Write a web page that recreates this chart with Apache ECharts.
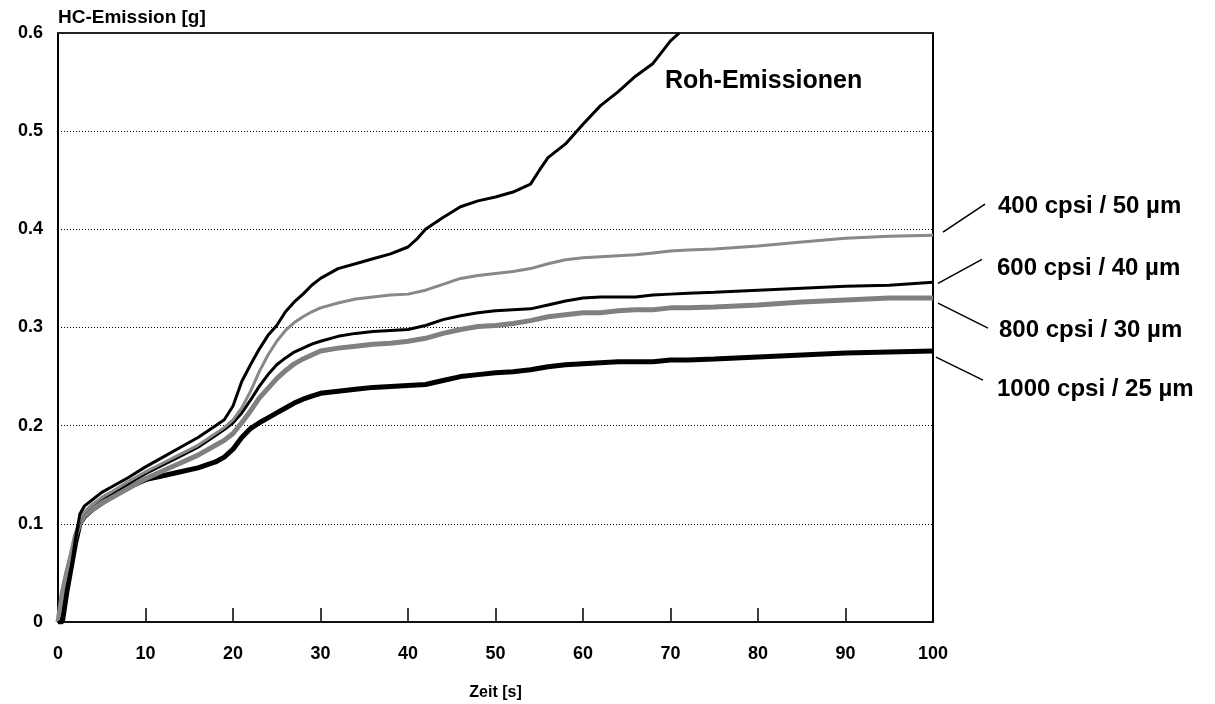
<!DOCTYPE html>
<html>
<head>
<meta charset="utf-8">
<script src="https://cdn.jsdelivr.net/npm/echarts@6/dist/echarts.min.js"></script>
<style>
  html, body { margin: 0; padding: 0; background: #fff; }
  #chart { width: 1215px; height: 704px; }
</style>
</head>
<body>
<div id="chart"></div>
<script>
// Zeitachse der Katalysator-Kurven [s]
var zeit = [0, 0.5, 1, 1.5, 2, 2.5, 3, 4, 5, 6, 8, 10, 12, 14, 16, 18, 19, 20, 21, 22, 23, 24, 25, 26, 27, 28, 29, 30,
  32, 34, 36, 38, 40, 42, 44, 46, 48, 50, 52, 54, 56, 58, 60, 62, 64, 66, 68, 70, 72, 75, 80, 85, 90, 95, 100];
// Zeitachse Roh-Emissionen (endet am oberen Rand)
var zeitRoh = [0, 0.5, 1, 1.5, 2, 2.5, 3, 4, 5, 6, 8, 10, 12, 14, 16, 18, 19, 20, 21, 22, 23, 24, 25, 26, 27, 28, 29, 30,
  32, 34, 36, 38, 40, 41, 42, 44, 46, 48, 50, 52, 54, 55, 56, 58, 60, 62, 64, 66, 68, 70, 71];

var roh = [0, 0, 0.03, 0.055, 0.085, 0.11, 0.118, 0.125, 0.132, 0.137, 0.147, 0.158, 0.168, 0.178, 0.188, 0.2, 0.206, 0.22,
  0.245, 0.262, 0.278, 0.292, 0.302, 0.316, 0.326, 0.334, 0.343, 0.35, 0.36, 0.365, 0.37, 0.375, 0.382, 0.39, 0.4, 0.412,
  0.423, 0.429, 0.433, 0.438, 0.446, 0.46, 0.473, 0.487, 0.507, 0.526, 0.54, 0.556, 0.569, 0.592, 0.6];

var cpsi400 = [0, 0.03, 0.05, 0.07, 0.09, 0.105, 0.112, 0.12, 0.127, 0.132, 0.143, 0.153, 0.162, 0.171, 0.18, 0.192, 0.198,
  0.206, 0.218, 0.235, 0.255, 0.272, 0.286, 0.297, 0.305, 0.311, 0.316, 0.32, 0.325, 0.329, 0.331, 0.333, 0.334, 0.338,
  0.344, 0.35, 0.353, 0.355, 0.357, 0.36, 0.365, 0.369, 0.371, 0.372, 0.373, 0.374, 0.376, 0.378, 0.379, 0.38, 0.383,
  0.387, 0.391, 0.393, 0.394];

var cpsi600 = [0, 0.005, 0.035, 0.06, 0.085, 0.105, 0.112, 0.12, 0.126, 0.131, 0.141, 0.151, 0.16, 0.169, 0.178, 0.19,
  0.196, 0.203, 0.213, 0.226, 0.24, 0.252, 0.262, 0.269, 0.275, 0.279, 0.283, 0.286, 0.291, 0.294, 0.296, 0.297, 0.298,
  0.302, 0.308, 0.312, 0.315, 0.317, 0.318, 0.319, 0.323, 0.327, 0.33, 0.331, 0.331, 0.331, 0.333, 0.334, 0.335, 0.336,
  0.338, 0.34, 0.342, 0.343, 0.346];

var cpsi800 = [0, 0.03, 0.05, 0.068, 0.088, 0.1, 0.108, 0.115, 0.121, 0.126, 0.136, 0.146, 0.154, 0.162, 0.17, 0.18,
  0.185, 0.192, 0.203, 0.215, 0.228, 0.238, 0.248, 0.256, 0.263, 0.268, 0.272, 0.276, 0.279, 0.281, 0.283, 0.284, 0.286,
  0.289, 0.294, 0.298, 0.301, 0.302, 0.304, 0.307, 0.311, 0.313, 0.315, 0.315, 0.317, 0.318, 0.318, 0.32, 0.32, 0.321,
  0.323, 0.326, 0.328, 0.33, 0.33];

var cpsi1000 = [0, 0, 0.03, 0.055, 0.08, 0.1, 0.107, 0.115, 0.121, 0.127, 0.137, 0.145, 0.149, 0.153, 0.157, 0.163,
  0.168, 0.176, 0.188, 0.197, 0.203, 0.208, 0.213, 0.218, 0.223, 0.227, 0.23, 0.233, 0.235, 0.237, 0.239, 0.24, 0.241,
  0.242, 0.246, 0.25, 0.252, 0.254, 0.255, 0.257, 0.26, 0.262, 0.263, 0.264, 0.265, 0.265, 0.265, 0.267, 0.267, 0.268,
  0.27, 0.272, 0.274, 0.275, 0.276];

var xTicks = [0, 10, 20, 30, 40, 50, 60, 70, 80, 90, 100];
var yTicks = [0, 0.1, 0.2, 0.3, 0.4, 0.5, 0.6];

function pairs(t, v) {
  return t.map(function (x, i) { return [x, v[i]]; });
}

var fontFam = '"Liberation Sans", Arial, sans-serif';
var myChart = echarts.init(document.getElementById('chart'));

var option = {
  animation: false,
  backgroundColor: '#fff',
  textStyle: { fontFamily: fontFam },
  grid: { left: 58, right: 282, top: 33, bottom: 82, containLabel: false, outerBoundsMode: 'none' },
  xAxis: [{
    type: 'value',
    min: 0, max: 100, interval: 10,
    name: 'Zeit [s]',
    nameLocation: 'middle',
    nameGap: 63,
    nameTextStyle: { color: '#000', fontWeight: 'bold', fontSize: 16, fontFamily: fontFam },
    axisLine: { show: true, onZero: false, lineStyle: { color: '#111', width: 2 } },
    axisTick: { show: true, inside: true, length: 14, lineStyle: { color: '#000', width: 1.5 } },
    axisLabel: {
      color: '#000', fontWeight: 'bold', fontSize: 18, margin: 23, fontFamily: fontFam,
      formatter: function (v) { return xTicks.indexOf(v) >= 0 ? String(v) : ''; }
    },
    splitLine: { show: false }
  }, {
    // oberer Rahmen
    type: 'value', position: 'top', min: 0, max: 100,
    axisLine: { show: true, onZero: false, lineStyle: { color: '#222', width: 2 } },
    axisTick: { show: false }, axisLabel: { show: false }, splitLine: { show: false }
  }],
  yAxis: [{
    type: 'value',
    min: 0, max: 0.6, interval: 0.1,
    name: 'HC-Emission [g]',
    nameLocation: 'end',
    nameGap: 6,
    nameTextStyle: { color: '#000', fontWeight: 'bold', fontSize: 19, align: 'left', fontFamily: fontFam },
    axisLine: { show: true, onZero: false, lineStyle: { color: '#000', width: 2 } },
    axisTick: { show: false },
    axisLabel: {
      color: '#000', fontWeight: 'bold', fontSize: 18, margin: 15, fontFamily: fontFam,
      formatter: function (v) { return yTicks.indexOf(+v.toFixed(1)) >= 0 ? String(+v.toFixed(1)) : ''; }
    },
    splitLine: { show: true, lineStyle: { color: '#000', width: 1, type: [1, 2] } }
  }, {
    // rechter Rahmen
    type: 'value', position: 'right', min: 0, max: 0.6,
    axisLine: { show: true, onZero: false, lineStyle: { color: '#000', width: 2 } },
    axisTick: { show: false }, axisLabel: { show: false }, splitLine: { show: false }
  }],
  series: [
    {
      name: '1000 cpsi / 25 µm', type: 'line', showSymbol: false, z: 3,
      data: pairs(zeit, cpsi1000),
      lineStyle: { color: '#000', width: 5 }
    },
    {
      name: '800 cpsi / 30 µm', type: 'line', showSymbol: false, z: 4,
      data: pairs(zeit, cpsi800),
      lineStyle: { color: '#808080', width: 5 }
    },
    {
      name: '600 cpsi / 40 µm', type: 'line', showSymbol: false, z: 5,
      data: pairs(zeit, cpsi600),
      lineStyle: { color: '#000', width: 3 }
    },
    {
      name: '400 cpsi / 50 µm', type: 'line', showSymbol: false, z: 6,
      data: pairs(zeit, cpsi400),
      lineStyle: { color: '#888', width: 3 }
    },
    {
      name: 'Roh-Emissionen', type: 'line', showSymbol: false, z: 7,
      data: pairs(zeitRoh, roh),
      lineStyle: { color: '#000', width: 3 }
    }
  ]
};
myChart.setOption(option);

// Beschriftungen mit Verbindungslinien, am Kurvenende verankert
var labelFont = 'bold 24px ' + fontFam;
var ends = [
  { text: '400 cpsi / 50 µm', v: cpsi400[cpsi400.length - 1], ly: 206, lx: 998, from: [10, -3], to: [52, -31] },
  { text: '600 cpsi / 40 µm', v: cpsi600[cpsi600.length - 1], ly: 268, lx: 997, from: [5, 1], to: [49, -23] },
  { text: '800 cpsi / 30 µm', v: cpsi800[cpsi800.length - 1], ly: 330, lx: 999, from: [5, 5], to: [55, 30] },
  { text: '1000 cpsi / 25 µm', v: cpsi1000[cpsi1000.length - 1], ly: 389, lx: 997, from: [3, 6], to: [50, 29] }
];
var graphics = [];
ends.forEach(function (e) {
  var p = myChart.convertToPixel({ gridIndex: 0 }, [100, e.v]);
  graphics.push({
    type: 'line', silent: true,
    shape: { x1: p[0] + e.from[0], y1: p[1] + e.from[1], x2: p[0] + e.to[0], y2: p[1] + e.to[1] },
    style: { stroke: '#000', lineWidth: 1.5 }
  });
  graphics.push({
    type: 'text', x: e.lx, y: e.ly,
    style: { text: e.text, fill: '#000', font: labelFont, textVerticalAlign: 'middle' }
  });
});
graphics.push({
  type: 'text', x: 665, y: 81,
  style: { text: 'Roh-Emissionen', fill: '#000', font: 'bold 25px ' + fontFam, textVerticalAlign: 'middle' }
});
myChart.setOption({ graphic: graphics });

window.addEventListener('resize', function () { myChart.resize(); });
</script>
</body>
</html>
